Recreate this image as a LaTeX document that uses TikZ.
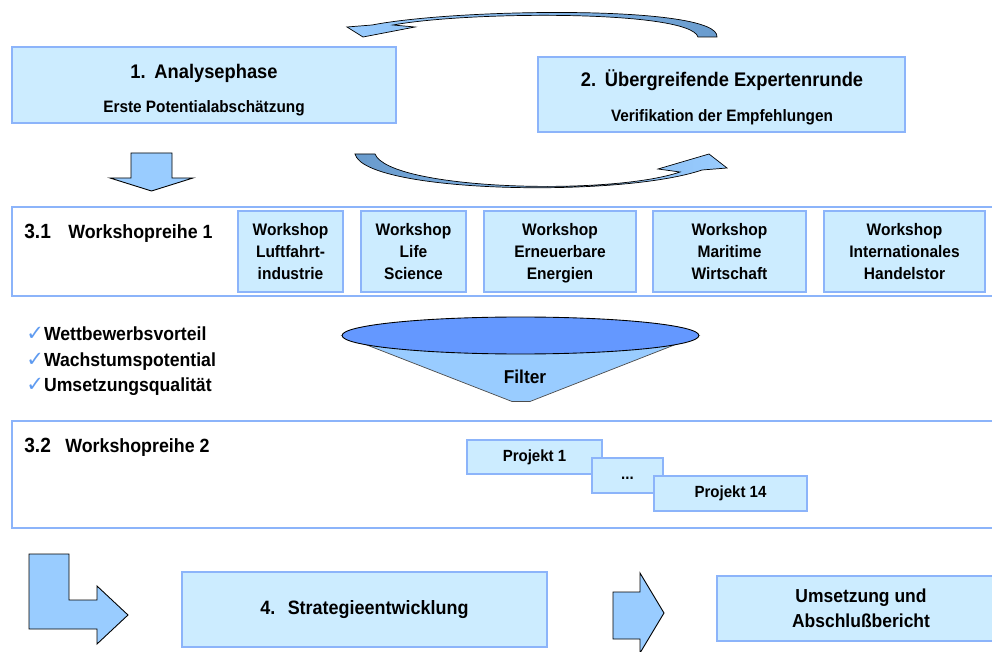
\documentclass[tikz,border=0pt]{standalone}
\usepackage{fontspec}
\setmainfont{Liberation Sans}[FakeStretch=0.93]
\newfontfamily\tickfont{DejaVu Sans}
\definecolor{boxfill}{RGB}{204,236,255}
\definecolor{boxline}{RGB}{140,180,250}
\definecolor{arrowfill}{RGB}{153,204,255}
\definecolor{arrowdark}{RGB}{105,155,205}
\definecolor{funneltop}{RGB}{100,152,255}
\definecolor{tickblue}{RGB}{95,155,240}
\newcommand{\sz}[2]{\fontsize{#1}{#2}\selectfont\bfseries}
\newcommand{\tick}{{\tickfont\mdseries\fontsize{12}{12}\selectfont\color{tickblue}✓}}
% \pxbox{name}{style}{x1}{y1}{x2}{y2}{text}, corners in pixel units
\newcommand{\pxbox}[7]{%
    \node[#2, minimum width={(#5-#3)*0.02cm}, minimum height={(#6-#4)*0.02cm}]
        (#1) at ({(#3+#5)/2},{(#4+#6)/2}) {#7}}
\tikzset{
    phase/.style={draw=boxline, fill=boxfill, line width=.7pt, inner sep=0pt, align=center},
    row/.style={draw=boxline, line width=.7pt, inner sep=0pt},
    item/.style={phase, font=\sz{9.5}{12.5}},
    txt/.style={inner sep=0pt, anchor=base, font=\sz{#1}{13}},
    blockarrow/.style={draw=black, fill=arrowfill, line width=.5pt, line join=miter},
    swoosh/.style 2 args={left color=#1, right color=#2, draw=black, line width=.4pt},
}

\begin{document}
\begin{tikzpicture}[x=0.02cm, y=-0.02cm]
\useasboundingbox (0,0) rectangle (992,652);
% phases 1 and 2
\pxbox{analyse}{phase}{12}{47}{396}{123}{};
\node[txt=11.2] (analysetitle) at (204,78.6) {1.\hspace{5pt}Analysephase};
\node[txt=9.4] (analysesub) at (204,112.5) {Erste Potentialabschätzung};
\pxbox{experten}{phase}{538}{57}{905}{132}{};
\node[txt=11.2] (expertentitle) at (722,86.6) {2.\hspace{5pt}Übergreifende Expertenrunde};
\node[txt=9.4] (expertensub) at (722,121.5) {Verifikation der Empfehlungen};
% the loop between them
\shadedraw[swoosh={arrowfill}{arrowdark}] (347,27) -- (372,25)
    .. controls (460,8) and (720,5) .. (717,37) -- (698,37)
    .. controls (690,10) and (470,11) .. (393,25) -- (415,27) -- (363,37) -- cycle;
\shadedraw[swoosh={arrowdark}{arrowfill}] (355,154) -- (375,154)
    .. controls (390,190) and (610,196) .. (680,172) -- (658,169) -- (709,154)
    -- (727,168) -- (702,170) .. controls (620,198) and (365,193) .. (355,154) -- cycle;
\draw[blockarrow] (131,153) -- (172,153) -- (172,178) -- (193,178) -- (151.5,191)
    -- (110,178) -- (131,178) -- cycle;
% workshop series 1
\pxbox{reihe1}{row}{12}{207}{1000}{296}{};
\node[txt=11.7, anchor=base west] (reihe1nr) at (24,239) {3.1};
\node[txt=10.9, anchor=base west] (reihe1title) at (68,239) {Workshopreihe 1};
\pxbox{luftfahrt}{item}{238}{211}{343}{292}{Workshop\\Luftfahrt-\\industrie};
\pxbox{life}{item}{361}{211}{466}{292}{Workshop\\Life\\Science};
\pxbox{energien}{item}{484}{211}{636}{292}{Workshop\\Erneuerbare\\\smash{Energien}};
\pxbox{maritim}{item}{653}{211}{806}{292}{Workshop\\Maritime\\Wirtschaft};
\pxbox{handel}{item}{824}{211}{985}{292}{Workshop\\Internationales\\Handelstor};
% criteria and filter
\foreach \crit [count=\i] in {Wettbewerbsvorteil, Wachstumspotential, Umsetzungsqualität}
    \node[txt=10.8, anchor=base west] (crit\i) at (26,314+26*\i) {\tick\crit};
\filldraw[fill=arrowfill, draw=black!70, line width=.4pt] (342.5,335.5) -- (512,401.5)
    -- (530,401.5) -- (698.5,335.5) -- cycle;
\filldraw[fill=funneltop, draw=black, line width=.5pt] (520.5,335.5)
    ellipse [x radius=3.57cm, y radius=0.37cm];
\node[txt=10.6] (filter) at (525,383.5) {Filter};
% workshop series 2
\pxbox{reihe2}{row}{12}{421}{1000}{528}{};
\node[txt=11.7, anchor=base west] (reihe2nr) at (24,452) {3.2};
\node[txt=10.9, anchor=base west] (reihe2title) at (65,452) {Workshopreihe 2};
\pxbox{projekt1}{phase, font=\sz{9.2}{11}}{467}{440}{602}{474}{Projekt 1};
\pxbox{projektdots}{phase, font=\sz{9.2}{11}}{592}{458}{663}{493}{\vphantom{Pj}...};
\pxbox{projekt14}{phase, font=\sz{9.2}{11}}{654}{476}{807}{511}{Projekt 14};
% strategy and final report
\draw[blockarrow] (29,554) -- (69,554) -- (69,600) -- (97,600) -- (97,586) -- (128,615)
    -- (97,644) -- (97,629) -- (29,629) -- cycle;
\pxbox{strategie}{phase, font=\sz{11}{13}}{182}{572}{547}{647}{4.\hspace{7pt}Strategieentwicklung};
\draw[blockarrow] (613,592) -- (640,592) -- (640,573) -- (664,613) -- (640,653)
    -- (640,639) -- (613,639) -- cycle;
\pxbox{umsetzung}{phase, font=\sz{10.7}{14.2}}{717}{576}{1005}{641}{Umsetzung und\\Abschlußbericht};
\end{tikzpicture}
\end{document}
